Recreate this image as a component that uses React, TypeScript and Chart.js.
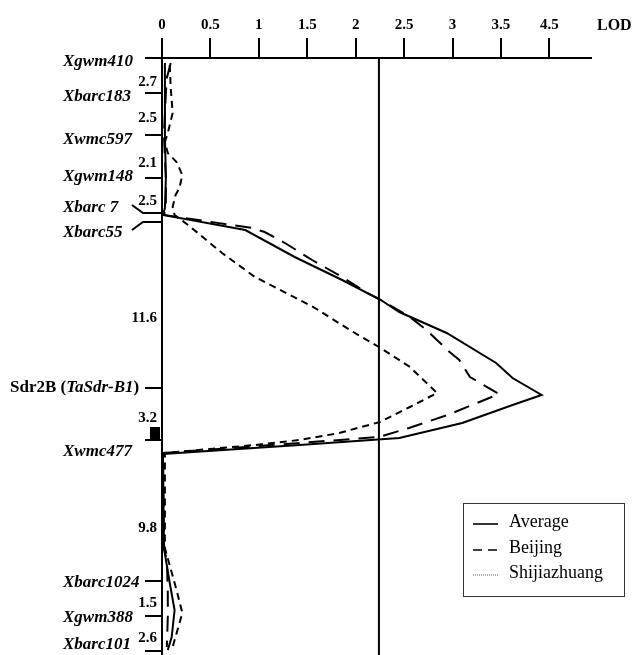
import React, { useEffect, useRef } from "react";
import { Chart, registerables } from "chart.js";

Chart.register(...registerables);

// LOD axis ticks (as printed on the original figure)
const tickValues = [0, 0.5, 1, 1.5, 2, 2.5, 3, 3.5, 4];
const tickLabels = ["0", "0.5", "1", "1.5", "2", "2.5", "3", "3.5", "4.5"];
const lodThreshold = 2.24;

// Linkage map: marker names and their drawing positions along the map
const markerNames = ["Xgwm410", "Xbarc183", "Xwmc597", "Xgwm148", "Xbarc 7", "Xbarc55", "Sdr2B", "Xwmc477", "Xbarc1024", "Xgwm388", "Xbarc101"];
const markerPos = [0, 35, 77, 120, 155, 164, 330, 382, 523, 558, 593];
const markerLabelPos = [4, 39, 82, 119, 150, 175, 330, 394, 525, 560, 587];
const intervalLabels = ["2.7", "2.5", "2.1", "2.5", "11.6", "3.2", "9.8", "1.5", "2.6"];
const intervalPos = [24, 60, 105, 143, 260, 360, 470, 545, 580];

// LOD profiles (map position, LOD)
const avgPos = [5, 20, 35, 77, 120, 150, 157, 172, 199, 222, 242, 254, 275, 305, 320, 337, 347, 365, 380, 387, 396, 490, 525, 552, 579, 592];
const avgLod = [0.03, 0.03, 0.03, 0.03, 0.04, 0.03, 0.01, 0.86, 1.37, 1.86, 2.26, 2.45, 2.94, 3.45, 3.62, 3.92, 3.62, 3.10, 2.45, 1.42, 0.01, 0.02, 0.08, 0.13, 0.10, 0.06];

const bjPos = [5, 20, 35, 77, 120, 150, 157, 170, 174, 185, 202, 219, 235, 241, 259, 272, 294, 302, 319, 336, 357, 370, 379, 385, 395, 490, 502, 535, 559, 589];
const bjLod = [0.09, 0.05, 0.04, 0.02, 0.04, 0.04, 0.02, 0.93, 1.06, 1.27, 1.55, 1.86, 2.12, 2.24, 2.56, 2.73, 2.97, 3.07, 3.18, 3.48, 2.95, 2.55, 2.24, 1.42, 0.01, 0.02, 0.05, 0.06, 0.06, 0.05];

const sjzPos = [7, 30, 55, 75, 84, 95, 104, 117, 130, 137, 149, 157, 167, 195, 219, 250, 272, 289, 309, 335, 349, 364, 375, 382, 387, 395, 490, 532, 555, 572, 589];
const sjzLod = [0.08, 0.09, 0.11, 0.06, 0.03, 0.06, 0.15, 0.21, 0.18, 0.14, 0.11, 0.13, 0.27, 0.62, 0.96, 1.58, 1.94, 2.24, 2.56, 2.84, 2.56, 2.25, 1.83, 1.42, 0.96, 0.03, 0.03, 0.15, 0.21, 0.16, 0.11];

const seriesNames = ["Average", "Beijing", "Shijiazhuang"];

const SERIF = '"Liberation Serif", "Times New Roman", serif';

const toPoints = (pos: number[], lod: number[]) => pos.map((p, i) => ({ x: lod[i], y: p }));

const mapPlugin = {
  id: "mapPlugin",
  afterDraw(chart: any) {
    const ctx: CanvasRenderingContext2D = chart.ctx;
    const y = chart.scales.y;
    const x0 = chart.chartArea.left;
    ctx.save();
    ctx.fillStyle = "#000";
    ctx.strokeStyle = "#000";
    ctx.lineWidth = 2;

    // marker ticks
    markerNames.forEach((name, i) => {
      const py = y.getPixelForValue(markerPos[i]);
      ctx.beginPath();
      if (name === "Xbarc 7") {
        const ly = y.getPixelForValue(markerLabelPos[i]) - 3;
        ctx.moveTo(132, ly);
        ctx.lineTo(143, py);
        ctx.lineTo(x0, py);
      } else if (name === "Xbarc55") {
        const ly = y.getPixelForValue(markerLabelPos[i]) - 3;
        ctx.moveTo(132, ly);
        ctx.lineTo(143, py);
        ctx.lineTo(x0, py);
      } else {
        ctx.moveTo(145, py);
        ctx.lineTo(x0, py);
      }
      ctx.stroke();
    });

    // marker labels
    ctx.textBaseline = "middle";
    ctx.textAlign = "left";
    markerNames.forEach((name, i) => {
      const py = y.getPixelForValue(markerLabelPos[i]);
      if (name === "Sdr2B") {
        let cx = 10;
        ctx.font = `bold 17px ${SERIF}`;
        ctx.fillText("Sdr2B (", cx, py);
        cx += ctx.measureText("Sdr2B (").width;
        ctx.font = `italic bold 17px ${SERIF}`;
        ctx.fillText("TaSdr-B1", cx, py);
        cx += ctx.measureText("TaSdr-B1").width;
        ctx.font = `bold 17px ${SERIF}`;
        ctx.fillText(")", cx, py);
      } else {
        ctx.font = `italic bold 17px ${SERIF}`;
        ctx.fillText(name, 63, py);
      }
    });

    // interval distances
    ctx.font = `bold 15px ${SERIF}`;
    ctx.textAlign = "right";
    intervalLabels.forEach((t, i) => {
      ctx.fillText(t, 157, y.getPixelForValue(intervalPos[i]));
    });

    // QTL marker box
    const sy0 = y.getPixelForValue(369);
    const sy1 = y.getPixelForValue(381);
    ctx.fillRect(150, sy0, 10, sy1 - sy0);

    // axis title
    ctx.font = `bold 16px ${SERIF}`;
    ctx.textAlign = "left";
    ctx.fillText("LOD", 597, 26);

    // legend
    const lx = 463, ly = 503, lw = 161, lh = 93;
    ctx.lineWidth = 1;
    ctx.strokeStyle = "#333";
    ctx.strokeRect(lx + 0.5, ly + 0.5, lw, lh);
    const rows = [522, 548, 573];
    const dashes: number[][] = [[], [9, 6], [1, 1]];
    const widths = [1.6, 1.6, 1];
    ctx.font = `18px ${SERIF}`;
    ctx.textAlign = "left";
    seriesNames.forEach((n, i) => {
      ctx.beginPath();
      ctx.strokeStyle = i === 2 ? "#555" : "#000";
      ctx.lineWidth = widths[i];
      ctx.setLineDash(dashes[i]);
      ctx.moveTo(473, rows[i] + 2);
      ctx.lineTo(498, rows[i] + 2);
      ctx.stroke();
      ctx.setLineDash([]);
      ctx.fillStyle = "#000";
      ctx.fillText(n, 509, rows[i]);
    });
    ctx.restore();
  },
};

export default function App() {
  const ref = useRef<HTMLCanvasElement | null>(null);
  useEffect(() => {
    if (!ref.current) return;
    const chart = new Chart(ref.current, {
      type: "scatter",
      data: {
        datasets: [
          { label: seriesNames[0], data: toPoints(avgPos, avgLod), showLine: true, borderColor: "#000", borderWidth: 2, pointRadius: 0 },
          { label: seriesNames[1], data: toPoints(bjPos, bjLod), showLine: true, borderColor: "#000", borderWidth: 2, borderDash: [16, 9], pointRadius: 0 },
          { label: seriesNames[2], data: toPoints(sjzPos, sjzLod), showLine: true, borderColor: "#000", borderWidth: 2, borderDash: [7, 5], pointRadius: 0 },
          { label: "threshold", data: [{ x: lodThreshold, y: 0 }, { x: lodThreshold, y: 597 }], showLine: true, borderColor: "#000", borderWidth: 2, pointRadius: 0 },
        ],
      } as any,
      options: {
        animation: false,
        responsive: false,
        layout: { padding: { left: 0, right: 43, top: 0, bottom: 0 } },
        scales: {
          x: {
            type: "linear",
            position: "top",
            min: 0,
            max: 4.43,
            afterFit: (s: any) => { s.height = 58; },
            afterBuildTicks: (s: any) => { s.ticks = tickValues.map((v) => ({ value: v })); },
            ticks: {
              autoSkip: false,
              maxRotation: 0,
              padding: 4,
              color: "#000",
              font: { family: SERIF, weight: "bold", size: 15 },
              callback: (v: any) => tickLabels[tickValues.indexOf(Number(v))] ?? "",
            },
            grid: { drawOnChartArea: false, tickLength: 20, color: "#000", lineWidth: 2 },
            border: { color: "#000", width: 2 },
          },
          y: {
            type: "linear",
            reverse: true,
            min: 0,
            max: 597,
            afterFit: (s: any) => { s.width = 162; },
            ticks: { display: false },
            grid: { display: false, drawTicks: false },
            border: { display: true, color: "#000", width: 2 },
          },
        },
        plugins: { legend: { display: false }, tooltip: { enabled: false } },
      } as any,
      plugins: [mapPlugin],
    });
    return () => chart.destroy();
  }, []);
  return (
    <div style={{ position: "fixed", left: 0, top: 0, width: 634, height: 655, background: "#fff" }}>
      <canvas ref={ref} width={634} height={655} style={{ width: 634, height: 655, display: "block" }} />
    </div>
  );
}
